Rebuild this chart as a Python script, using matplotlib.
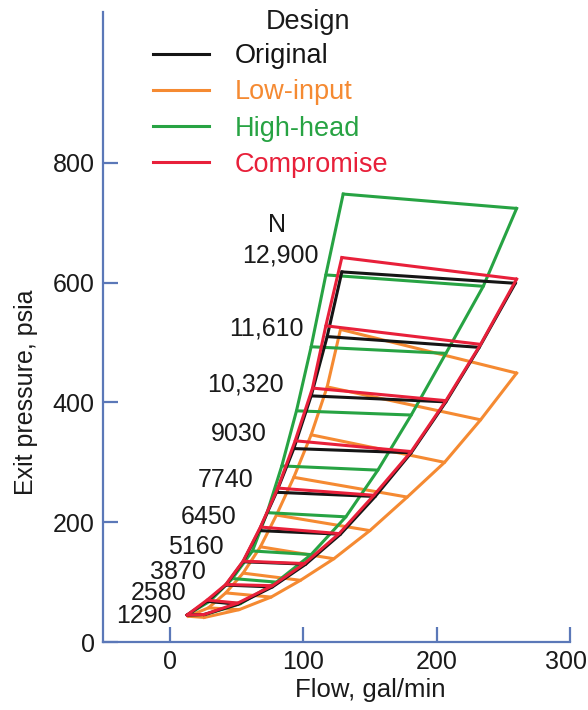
import matplotlib
matplotlib.use("Agg")
import matplotlib.pyplot as plt
from matplotlib.transforms import ScaledTranslation

# ---------------- data ----------------
speed_labels = ["1290", "2580", "3870", "5160", "6450", "7740",
                "9030", "10,320", "11,610", "12,900"]
design_names = ["Original", "Low-input", "High-head", "Compromise"]

# low-flow end and high-flow end of each speed line (flow gal/min, exit pressure psia)
orig_flow_lo = [13, 28, 42, 55, 67, 80, 93, 106, 118, 129]
orig_p_lo    = [45, 68, 95, 134, 186, 250, 323, 411, 510, 618]
orig_flow_hi = [26, 51, 77, 102, 128, 154, 181, 207, 232, 259]
orig_p_hi    = [46, 63, 92, 130, 180, 243, 316, 401, 492, 599]

low_flow_lo = [14, 29, 42, 55, 68, 80, 93, 106, 118, 128]
low_p_lo    = [43, 57, 82, 115, 159, 212, 275, 346, 426, 522]
low_flow_hi = [26, 52, 76, 98, 123, 150, 178, 206, 233, 260]
low_p_hi    = [41, 54, 75, 103, 139, 186, 242, 300, 371, 449]

high_flow_lo = [13, 30, 47, 62, 73, 84, 95, 106, 117, 130]
high_p_lo    = [45, 68, 106, 152, 216, 294, 386, 493, 613, 748]
high_flow_hi = [27, 53, 80, 106, 132, 156, 181, 207, 235, 260]
high_p_hi    = [46, 64, 100, 146, 209, 287, 379, 482, 594, 724]

comp_flow_lo = [13, 28, 42, 55, 68, 81, 94, 107, 117, 129]
comp_p_lo    = [45, 70, 96, 135, 192, 257, 336, 424, 528, 642]
comp_flow_hi = [26, 51, 77, 101, 127, 153, 181, 207, 233, 260]
comp_p_hi    = [46, 65, 94, 131, 181, 245, 318, 403, 497, 606]

x_ticks = [0, 100, 200, 300]
y_ticks = [0, 200, 400, 600, 800]

# ---------------- style ----------------
plt.rcParams['font.family'] = ['Liberation Sans', 'DejaVu Sans']
colors = {"Original": "#151515", "Low-input": "#f58a32",
          "High-head": "#27a343", "Compromise": "#e8203a"}
zorders = {"Original": 4, "Low-input": 2, "High-head": 3, "Compromise": 5}
axis_blue = "#5b78b8"
LW = 2.2

fig = plt.figure(figsize=(5.88, 7.10), dpi=100)
ax = fig.add_axes([103 / 588, 68 / 710, 467 / 588, 630 / 710])

series = {
    "Original": (orig_flow_lo, orig_p_lo, orig_flow_hi, orig_p_hi),
    "Low-input": (low_flow_lo, low_p_lo, low_flow_hi, low_p_hi),
    "High-head": (high_flow_lo, high_p_lo, high_flow_hi, high_p_hi),
    "Compromise": (comp_flow_lo, comp_p_lo, comp_flow_hi, comp_p_hi),
}

handles = []
for name in design_names:
    fl, pl, fh, ph = series[name]
    c = colors[name]
    z = zorders[name]
    h, = ax.plot(fl, pl, color=c, lw=LW, zorder=z, solid_joinstyle='round')
    ax.plot(fh, ph, color=c, lw=LW, zorder=z, solid_joinstyle='round')
    for i in range(len(fl)):
        ax.plot([fl[i], fh[i]], [pl[i], ph[i]], color=c, lw=LW, zorder=z,
                solid_capstyle='round')
    handles.append(h)

# speed labels anchored at the low-flow end of the original design lines
label_offsets_px = [(-15, -1), (-21, 8), (-20, 13), (-19, 15), (-23, 14),
                    (-23, 12), (-27, 15), (-27, 11), (-24, 8), (-23, 16)]
for i, lab in enumerate(speed_labels):
    dx, dy = label_offsets_px[i]
    ax.annotate(lab, xy=(orig_flow_lo[i], orig_p_lo[i]),
                xytext=(dx * 0.72, dy * 0.72), textcoords='offset points',
                ha='right', va='center', fontsize=18, color='#1a1a1a')
ax.annotate("N", xy=(orig_flow_lo[-1], orig_p_lo[-1]),
            xytext=(-65 * 0.72, 47 * 0.72), textcoords='offset points',
            ha='center', va='center', fontsize=18, color='#1a1a1a')

ax.set_xlim(-50, 300)
ax.set_ylim(0, 1052)
ax.set_xticks(x_ticks)
ax.set_yticks(y_ticks)
for s in ['top', 'right']:
    ax.spines[s].set_visible(False)
for s in ['left', 'bottom']:
    ax.spines[s].set_color(axis_blue)
    ax.spines[s].set_linewidth(1.6)
ax.tick_params(direction='in', length=11, width=1.6, color=axis_blue,
               labelsize=18, pad=6, labelcolor='#1a1a1a')

ax.set_xlabel("Flow, gal/min", fontsize=18.5, color='#1a1a1a')
ax.set_ylabel("Exit pressure, psia", fontsize=18, color='#1a1a1a')
ax.xaxis.set_label_coords(0.572, -0.057)
ax.yaxis.set_label_coords(-0.139, 0.397)

# nudge the last x tick label slightly left so it stays inside the canvas
last_lab = ax.get_xticklabels()[-1]
last_lab.set_transform(last_lab.get_transform() +
                       ScaledTranslation(-4 / 100, 0, fig.dpi_scale_trans))

leg = ax.legend(handles, design_names, loc='upper left',
                bbox_to_anchor=(153 / 588, 1 - 43 / 710),
                bbox_transform=fig.transFigure, frameon=False,
                fontsize=19.5, handlelength=2.07, handletextpad=0.96,
                labelspacing=0.38, borderpad=0, borderaxespad=0,
                labelcolor='linecolor')
fig.text(307.5 / 588, 1 - 21.7 / 710, "Design", ha='center', va='center',
         fontsize=19.5, color='#1a1a1a')

fig.savefig("out.png", dpi=100)
